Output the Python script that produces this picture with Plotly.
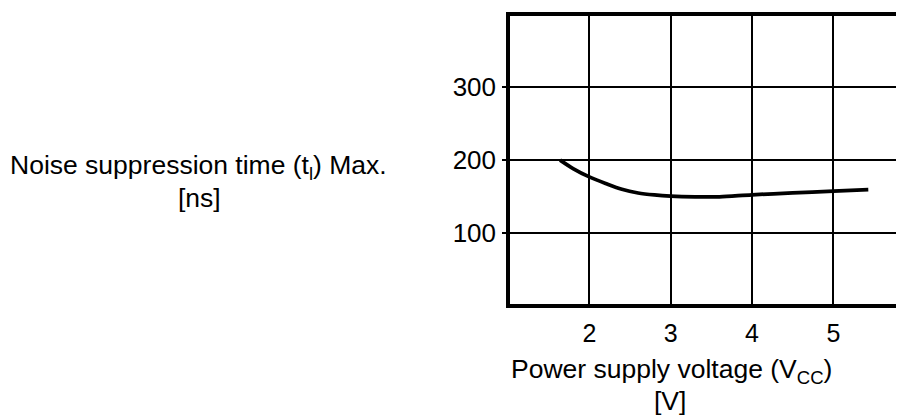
import plotly.graph_objects as go

vcc = [1.64, 1.8, 2.0, 2.2, 2.4, 2.6, 2.8, 3.0, 3.3, 3.6, 4.0, 4.5, 5.0, 5.43]
t_ns = [200, 188.5, 177, 168, 160, 155, 152.3, 150.7, 149.7, 149.7, 152.5, 155, 157.5, 159.5]

x_ticks = [2, 3, 4, 5]
y_ticks = [100, 200, 300]

FONT = "Liberation Sans, Arial, sans-serif"

# The page body adds an 8px offset; figure coordinates below are page - 8.
FIG_W, FIG_H = 930, 418
L, T, B = 502, 8, 122

fig = go.Figure()
fig.add_trace(go.Scatter(
    x=vcc, y=t_ns, mode="lines",
    line=dict(color="black", width=3.7, shape="spline", smoothing=0.9),
    showlegend=False, hoverinfo="skip",
))

fig.update_layout(
    width=FIG_W, height=FIG_H,
    margin=dict(l=L, r=0, t=T, b=B),
    paper_bgcolor="white", plot_bgcolor="white",
    font=dict(family=FONT, size=26, color="black"),
    xaxis=dict(
        range=[1.0246, 6.287], tickvals=x_ticks, ticktext=[str(v) for v in x_ticks],
        showgrid=True, gridcolor="black", gridwidth=1.8,
        showline=True, linecolor="black", linewidth=3.5, mirror=True,
        ticks="", zeroline=False, ticklabelstandoff=4, automargin=False,
        tickfont=dict(family=FONT, size=25),
    ),
    yaxis=dict(
        range=[2.7, 397.7], tickvals=y_ticks, ticktext=[str(v) for v in y_ticks],
        showgrid=True, gridcolor="black", gridwidth=1.8,
        showline=True, linecolor="black", linewidth=3.5, mirror=False,
        ticks="outside", ticklen=4, tickwidth=1.8, tickcolor="black",
        zeroline=False, ticklabelstandoff=1, automargin=False,
        tickfont=dict(family=FONT, size=26),
    ),
)

PW = FIG_W - L
PH = FIG_H - T - B

def ypaper(py):
    return (T + PH - py) / PH

def xpaper(px):
    return (px - L) / PW

annos = [
    dict(text="Noise suppression time (t<sub>l</sub>) Max.", x=xpaper(190), y=ypaper(159)),
    dict(text="[ns]", x=xpaper(191), y=ypaper(190)),
    dict(text="Power supply voltage (V<sub>CC</sub>)", x=xpaper(663), y=ypaper(363)),
    dict(text="[V]", x=xpaper(662), y=ypaper(393)),
]
for a in annos:
    fig.add_annotation(
        text=a["text"], x=a["x"], y=a["y"], xref="paper", yref="paper",
        xanchor="center", yanchor="middle", showarrow=False,
        font=dict(family=FONT, size=26.5, color="black"),
    )

fig.write_html("out.html")
